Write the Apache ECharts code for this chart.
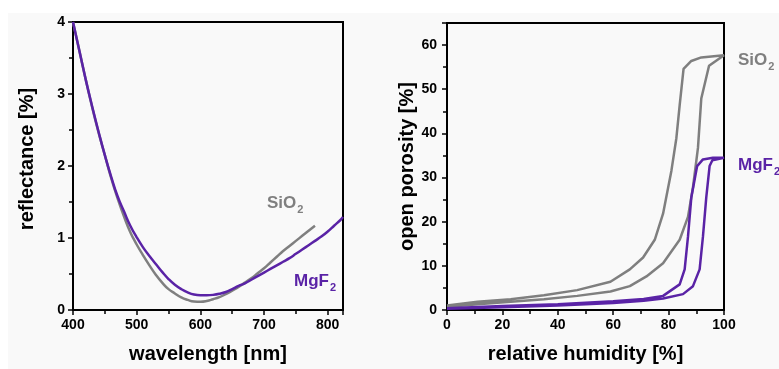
<!DOCTYPE html>
<html>
<head>
<meta charset="utf-8">
<script src="https://cdn.jsdelivr.net/npm/echarts@6/dist/echarts.min.js"></script>
<style>
html,body{margin:0;padding:0;background:#fff;}
#wrap{position:relative;width:779px;height:369px;overflow:hidden;background:#fff;}
#panel{position:absolute;left:8px;top:13px;width:771px;height:356px;background:#f9f9f9;}
#chart{position:absolute;left:0;top:0;width:779px;height:369px;}
</style>
</head>
<body>
<div id="wrap"><div id="panel"></div><div id="chart"></div></div>
<script>
// ---- left panel: reflectance vs wavelength ----
const wavelength = [400,410,420,430,440,450,460,470,480,490,500,510,520,530,540,550,560,570,580,590,600,610,620,630,640,650,660,670,680,690,700,710,720,730,740,750,760,770,780,790,800,810,820,824];
const reflSiO2 = [4.00,3.60,3.20,2.82,2.47,2.15,1.83,1.55,1.30,1.08,0.91,0.76,0.62,0.49,0.38,0.29,0.23,0.175,0.14,0.118,0.115,0.125,0.15,0.18,0.22,0.27,0.32,0.38,0.44,0.51,0.58,0.66,0.74,0.82,0.89,0.96,1.03,1.10,1.17];
const reflMgF2 = [4.00,3.60,3.20,2.83,2.48,2.15,1.85,1.58,1.37,1.17,1.01,0.87,0.75,0.64,0.53,0.43,0.35,0.29,0.245,0.215,0.205,0.205,0.21,0.225,0.25,0.29,0.335,0.37,0.42,0.47,0.52,0.57,0.62,0.67,0.72,0.78,0.84,0.90,0.96,1.02,1.09,1.17,1.25,1.29];

// ---- right panel: open porosity vs relative humidity (loops) ----
const rhSiO2 = [0,11,23,35,47,59,66,72,78,84,87,88.8,90.6,91.8,94.6,100, 91.8,88.2,85.4,84,82.8,81,78,75,70.8,66,59,47,35,23,11,0];
const porSiO2 = [0.7,1.3,1.85,2.45,3.2,4.2,5.4,7.6,10.6,15.9,21.1,27.8,36.7,47.9,55.3,57.7, 57.2,56.4,54.6,46.4,38.9,31.5,21.8,15.9,11.9,9.2,6.4,4.5,3.35,2.45,1.85,1.0];
const rhMgF2 = [0,20,40,60,71,78,85.2,88.8,91.2,92.4,93.6,94.8,95.8,100, 96,92.4,90.3,88.2,87,85.8,84,78,71,60,40,20,0];
const porMgF2 = [0.3,0.6,1.0,1.6,2.1,2.6,3.6,5.4,9.2,16.6,25.5,32.6,33.9,34.5, 34.5,34.1,32.6,25.5,16.6,9.2,5.8,3.2,2.5,2.0,1.3,0.9,0.4];

const xTicksLeft = {min:400, max:824, interval:100};
const yTicksLeft = {min:0, max:4, interval:1};
const xTicksRight = {min:0, max:100, interval:20};
const yTicksRight = {min:0, max:65, interval:10};

const GRAY = '#7f7f7f';
const PURPLE = '#5a23a6';
const FONT = '"Liberation Sans", Arial, sans-serif';

function pairs(xs, ys){ return ys.map((y,i)=>[xs[i], y]); }

function axisCommon(){
  return {
    axisLine:{show:true, onZero:false, lineStyle:{color:'#000', width:2}},
    axisTick:{show:true, inside:false, length:5, lineStyle:{color:'#000', width:1.5}},
    minorTick:{show:true, splitNumber:2, length:4, lineStyle:{color:'#000', width:1.5}},
    splitLine:{show:false},
    minorSplitLine:{show:false},
    axisLabel:{color:'#000', fontSize:14, fontWeight:'bold', fontFamily:FONT, margin:8},
    nameTextStyle:{color:'#000', fontSize:20, fontWeight:'bold', fontFamily:FONT}
  };
}

const chart = echarts.init(document.getElementById('chart'), null, {renderer:'canvas'});

const xL = Object.assign(axisCommon(), {type:'value', gridIndex:0, ...xTicksLeft, name:'wavelength [nm]', nameLocation:'middle', nameGap:34});
xL.axisLabel = Object.assign(xL.axisLabel, {showMaxLabel:false});
const yL = Object.assign(axisCommon(), {type:'value', gridIndex:0, ...yTicksLeft, name:'reflectance [%]', nameLocation:'middle', nameGap:36});
yL.nameTextStyle = Object.assign(yL.nameTextStyle, {padding:[0,0,0,14]});
const xR = Object.assign(axisCommon(), {type:'value', gridIndex:1, ...xTicksRight, name:'relative humidity [%]', nameLocation:'middle', nameGap:34});
const yR = Object.assign(axisCommon(), {type:'value', gridIndex:1, ...yTicksRight, name:'open porosity [%]', nameLocation:'middle', nameGap:30});
yR.axisLabel = Object.assign(yR.axisLabel, {showMaxLabel:false, margin:10});

// measure text to place subscripts
const cv = document.createElement('canvas').getContext('2d');
function textW(t, size){ cv.font = 'bold ' + size + 'px "Liberation Sans"'; return cv.measureText(t).width; }
function subLabel(main, sub, x, yc, color){
  const w = textW(main, 17);
  return [
    {type:'text', x:x, y:yc, z:100, style:{text:main, fill:color, font:'bold 17px ' + FONT, textAlign:'left', textVerticalAlign:'middle'}},
    {type:'text', x:x + w + 1, y:yc + 7, z:100, style:{text:sub, fill:color, font:'bold 11px ' + FONT, textAlign:'left', textVerticalAlign:'middle'}}
  ];
}

const option = {
  animation:false,
  backgroundColor:'transparent',
  grid:[
    {left:73, top:22, width:270, height:291, show:true, borderColor:'#000', borderWidth:2, backgroundColor:'transparent', containLabel:false},
    {left:447, top:23, width:277, height:291, show:true, borderColor:'#000', borderWidth:2, backgroundColor:'transparent', containLabel:false}
  ],
  xAxis:[xL, xR],
  yAxis:[yL, yR],
  series:[
    {type:'line', xAxisIndex:0, yAxisIndex:0, data:pairs(wavelength, reflSiO2), smooth:true, showSymbol:false, lineStyle:{color:GRAY, width:2.5}, itemStyle:{color:GRAY}, z:2},
    {type:'line', xAxisIndex:0, yAxisIndex:0, data:pairs(wavelength, reflMgF2), smooth:true, showSymbol:false, lineStyle:{color:PURPLE, width:2.5}, itemStyle:{color:PURPLE}, z:3},
    {type:'line', xAxisIndex:1, yAxisIndex:1, data:pairs(rhSiO2, porSiO2), smooth:false, showSymbol:false, lineStyle:{color:GRAY, width:2.5}, itemStyle:{color:GRAY}, z:2},
    {type:'line', xAxisIndex:1, yAxisIndex:1, data:pairs(rhMgF2, porMgF2), smooth:false, showSymbol:false, lineStyle:{color:PURPLE, width:2.5}, itemStyle:{color:PURPLE}, z:3}
  ],
  graphic: [].concat(
    subLabel('SiO', '2', 267, 203, GRAY),
    subLabel('MgF', '2', 294, 281, PURPLE),
    subLabel('SiO', '2', 738, 60, GRAY),
    subLabel('MgF', '2', 738, 165, PURPLE)
  )
};
chart.setOption(option);
</script>
</body>
</html>
